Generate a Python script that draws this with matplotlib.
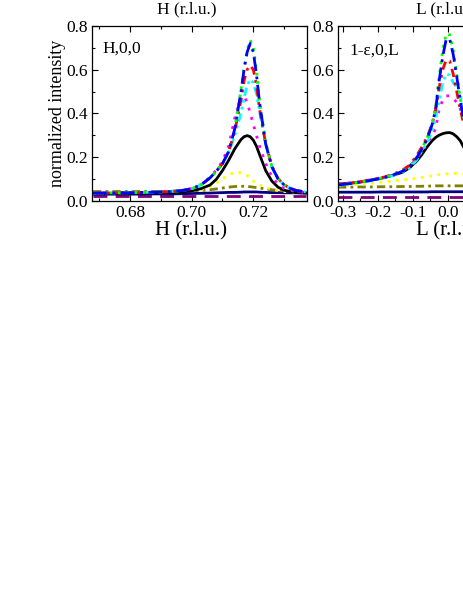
import numpy as np
import matplotlib
matplotlib.use('Agg')
import matplotlib.pyplot as plt

plt.rcParams['font.family'] = ['Liberation Serif', 'DejaVu Serif']

######################### data, H scan (left panel) #########################
H = [0.668, 0.675, 0.682, 0.688, 0.693, 0.697, 0.700, 0.703, 0.706, 0.708,
     0.710, 0.712, 0.714, 0.716, 0.717, 0.718, 0.719, 0.720, 0.721, 0.722,
     0.724, 0.726, 0.728, 0.730, 0.732, 0.734, 0.737]

H_black = [0.033, 0.033, 0.034, 0.035, 0.037, 0.040, 0.045, 0.055, 0.072, 0.098,
           0.138, 0.185, 0.238, 0.280, 0.293, 0.298, 0.293, 0.277, 0.250, 0.212,
           0.138, 0.090, 0.062, 0.048, 0.041, 0.037, 0.035]
H_blue = [0.035, 0.036, 0.037, 0.039, 0.042, 0.047, 0.055, 0.072, 0.105, 0.135,
          0.170, 0.225, 0.330, 0.500, 0.600, 0.680, 0.720, 0.680, 0.580, 0.450,
          0.260, 0.155, 0.100, 0.072, 0.056, 0.046, 0.040]
H_green = [0.035, 0.036, 0.037, 0.039, 0.042, 0.047, 0.055, 0.072, 0.105, 0.135,
           0.170, 0.225, 0.335, 0.510, 0.610, 0.690, 0.735, 0.700, 0.600, 0.460,
           0.265, 0.158, 0.102, 0.073, 0.057, 0.047, 0.041]
H_red = [0.036, 0.036, 0.037, 0.039, 0.042, 0.047, 0.055, 0.072, 0.105, 0.135,
         0.170, 0.225, 0.320, 0.460, 0.550, 0.600, 0.620, 0.600, 0.530, 0.420,
         0.260, 0.160, 0.102, 0.073, 0.057, 0.047, 0.041]
H_cyan = [0.035, 0.036, 0.037, 0.039, 0.042, 0.047, 0.055, 0.072, 0.105, 0.135,
          0.170, 0.220, 0.300, 0.400, 0.470, 0.530, 0.555, 0.540, 0.490, 0.410,
          0.260, 0.155, 0.100, 0.072, 0.056, 0.046, 0.040]
H_magenta = [0.036, 0.036, 0.037, 0.039, 0.042, 0.047, 0.056, 0.074, 0.108, 0.140,
             0.180, 0.250, 0.380, 0.470, 0.480, 0.450, 0.400, 0.350, 0.300, 0.250,
             0.170, 0.110, 0.075, 0.056, 0.047, 0.042, 0.038]
H_yellow = [0.035, 0.035, 0.036, 0.037, 0.039, 0.042, 0.045, 0.050, 0.065, 0.080,
            0.100, 0.118, 0.130, 0.128, 0.122, 0.115, 0.105, 0.090, 0.080, 0.072,
            0.062, 0.052, 0.046, 0.042, 0.040, 0.038, 0.036]
H_olive = [0.042, 0.042, 0.042, 0.042, 0.043, 0.044, 0.045, 0.047, 0.050, 0.054,
           0.058, 0.062, 0.065, 0.066, 0.066, 0.065, 0.064, 0.062, 0.060, 0.058,
           0.054, 0.050, 0.047, 0.045, 0.044, 0.043, 0.042]
H_navy = [0.030, 0.030, 0.030, 0.031, 0.031, 0.032, 0.033, 0.034, 0.035, 0.036,
          0.037, 0.038, 0.038, 0.039, 0.040, 0.040, 0.040, 0.040, 0.040, 0.039,
          0.038, 0.037, 0.037, 0.036, 0.036, 0.036, 0.035]
H_purple = [0.020] * 27

######################### data, L scan (right panel) #########################
L = [-0.314, -0.28, -0.25, -0.22, -0.19, -0.16, -0.13, -0.11, -0.09, -0.075,
     -0.06, -0.045, -0.035, -0.025, -0.015, -0.005, 0.005, 0.015, 0.025, 0.035,
     0.045, 0.06, 0.08, 0.10, 0.15, 0.20, 0.25, 0.30]

L_black = [0.075, 0.080, 0.085, 0.095, 0.103, 0.115, 0.130, 0.150, 0.180, 0.210,
           0.245, 0.275, 0.290, 0.300, 0.307, 0.311, 0.312, 0.306, 0.293, 0.275,
           0.245, 0.200, 0.155, 0.125, 0.095, 0.085, 0.080, 0.075]
L_blue = [0.072, 0.078, 0.085, 0.093, 0.103, 0.115, 0.135, 0.155, 0.195, 0.235,
          0.280, 0.350, 0.420, 0.550, 0.660, 0.740, 0.740, 0.670, 0.570, 0.460,
          0.370, 0.270, 0.190, 0.150, 0.110, 0.090, 0.080, 0.075]
L_green = [0.074, 0.079, 0.086, 0.094, 0.104, 0.116, 0.137, 0.158, 0.198, 0.238,
           0.285, 0.355, 0.430, 0.570, 0.690, 0.765, 0.760, 0.690, 0.580, 0.470,
           0.375, 0.272, 0.192, 0.151, 0.111, 0.091, 0.081, 0.076]
L_red = [0.076, 0.080, 0.087, 0.095, 0.105, 0.118, 0.140, 0.162, 0.205, 0.245,
         0.290, 0.350, 0.420, 0.520, 0.600, 0.645, 0.640, 0.580, 0.500, 0.420,
         0.350, 0.260, 0.185, 0.148, 0.110, 0.090, 0.080, 0.075]
L_cyan = [0.070, 0.076, 0.083, 0.091, 0.101, 0.113, 0.132, 0.150, 0.185, 0.225,
          0.265, 0.320, 0.380, 0.460, 0.540, 0.580, 0.575, 0.540, 0.520, 0.480,
          0.440, 0.330, 0.220, 0.165, 0.115, 0.092, 0.081, 0.075]
L_magenta = [0.078, 0.082, 0.088, 0.096, 0.106, 0.118, 0.138, 0.158, 0.190, 0.225,
             0.260, 0.300, 0.330, 0.420, 0.460, 0.480, 0.480, 0.470, 0.450, 0.420,
             0.380, 0.300, 0.210, 0.160, 0.115, 0.092, 0.082, 0.077]
L_yellow = [0.068, 0.071, 0.075, 0.079, 0.085, 0.090, 0.095, 0.099, 0.103, 0.106,
            0.110, 0.114, 0.117, 0.119, 0.121, 0.123, 0.124, 0.125, 0.125, 0.124,
            0.122, 0.118, 0.112, 0.106, 0.095, 0.085, 0.078, 0.072]
L_olive = [0.062, 0.062, 0.063, 0.063, 0.064, 0.064, 0.065, 0.065, 0.066, 0.066,
           0.067, 0.067, 0.068, 0.068, 0.068, 0.068, 0.068, 0.068, 0.068, 0.068,
           0.068, 0.067, 0.067, 0.066, 0.065, 0.064, 0.063, 0.062]
L_navy = [0.039, 0.039, 0.039, 0.039, 0.040, 0.040, 0.040, 0.040, 0.040, 0.040,
          0.040, 0.041, 0.041, 0.041, 0.041, 0.041, 0.041, 0.041, 0.041, 0.041,
          0.041, 0.040, 0.040, 0.040, 0.040, 0.039, 0.039, 0.039]
L_purple = [0.018] * 28

# colour / line style for each scan, drawn in this order
styles = [
    ('purple', '#800080', (0, (5, 3)), 2.0),
    ('navy', '#000080', '-', 2.0),
    ('olive', '#808000', (0, (3, 1.5, 1, 1.5)), 2.0),
    ('yellow', '#FFFF00', (0, (1, 2)), 2.0),
    ('black', '#000000', '-', 2.0),
    ('magenta', '#FF00FF', (0, (1, 2.5)), 2.0),
    ('cyan', '#00FFFF', (0, (3, 1.5, 1, 1.5, 1, 1.5)), 2.0),
    ('red', '#FF0000', (0, (3, 2, 1, 2)), 2.0),
    ('green', '#00FF00', (0, (1, 2)), 2.0),
    ('blue', '#0000FF', (0, (5, 2, 1, 2)), 2.0),
]
Hdata = {'black': H_black, 'blue': H_blue, 'green': H_green, 'red': H_red,
         'cyan': H_cyan, 'magenta': H_magenta, 'yellow': H_yellow,
         'olive': H_olive, 'navy': H_navy, 'purple': H_purple}
Ldata = {'black': L_black, 'blue': L_blue, 'green': L_green, 'red': L_red,
         'cyan': L_cyan, 'magenta': L_magenta, 'yellow': L_yellow,
         'olive': L_olive, 'navy': L_navy, 'purple': L_purple}

fig = plt.figure(figsize=(4.63, 5.99), dpi=100)
W, Hpx = 463.0, 599.0
axH = fig.add_axes([92 / W, (599 - 200.7) / Hpx, 215 / W, 174.7 / Hpx])
axL = fig.add_axes([338 / W, (599 - 200.7) / Hpx, 215 / W, 174.7 / Hpx])

for name, col, ls, lw in styles:
    axH.plot(H, Hdata[name], color=col, linestyle=ls, linewidth=lw)
    axL.plot(L, Ldata[name], color=col, linestyle=ls, linewidth=lw)

axH.set_xlim(0.6677, 0.7374)
axL.set_xlim(-0.314, 0.3)
for ax in (axH, axL):
    ax.set_ylim(0, 0.8)
    ax.set_yticks([0.0, 0.2, 0.4, 0.6, 0.8])
    ax.set_yticklabels(['0.0', '0.2', '0.4', '0.6', '0.8'])
    ax.tick_params(direction='in', top=True, right=True, labelsize=12.5,
                   length=4, width=0.8, pad=3)
    ax.tick_params(which='minor', direction='in', top=True, right=True,
                   length=2, width=0.8)
    for s in ax.spines.values():
        s.set_linewidth(0.9)

axH.set_xticks([0.68, 0.70, 0.72])
axH.set_xticklabels(['0.68', '0.70', '0.72'])
axH.set_xticks([0.67, 0.69, 0.71, 0.73], minor=True)
axH.set_yticks([0.1, 0.3, 0.5, 0.7], minor=True)
axL.set_xticks([-0.3, -0.2, -0.1, 0.0])
axL.set_xticklabels(['-0.3', '-0.2', '-0.1', '0.0'])
axL.set_xticks([-0.25, -0.15, -0.05, 0.05], minor=True)
axL.set_yticks([0.1, 0.3, 0.5, 0.7], minor=True)

axH.set_xlabel('H (r.l.u.)', fontsize=15)
axH.xaxis.set_label_coords(0.46, -0.118)
axL.set_xlabel('L (r.l.u.)', fontsize=15)
axL.xaxis.set_label_coords(0.525, -0.118)
axH.set_ylabel('normalized intensity', fontsize=13)
axH.yaxis.set_label_coords(-0.12, 0.5)

axH.text(0.442, 1.097, 'H (r.l.u.)', transform=axH.transAxes, fontsize=12.5,
         ha='center', va='center')
axL.text(0.495, 1.097, 'L (r.l.u.)', transform=axL.transAxes, fontsize=12.5,
         ha='center', va='center')

axH.text(0.05, 0.915, 'H,0,0', transform=axH.transAxes, fontsize=12.5,
         ha='left', va='top')
axL.text(0.055, 0.905, '1-ε,0,L', transform=axL.transAxes, fontsize=12.5,
         ha='left', va='top')

fig.savefig('out.png', dpi=100)
